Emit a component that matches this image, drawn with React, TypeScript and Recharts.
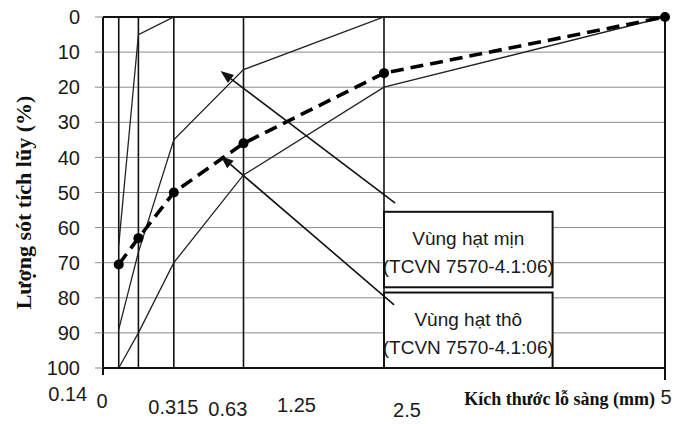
import { CartesianGrid, Line, LineChart, ReferenceArea, ReferenceLine, XAxis, YAxis } from 'recharts';

// sieve sizes (mm) and cumulative retained (%)
const sieveSizes = [0.14, 0.315, 0.63, 1.25, 2.5, 5];
const coarseLimit = [100, 90, 70, 45, 20, 0];
const sharedLimit = [89, 67, 35, 15, 0, 0];
const fineLimit = [65, 5, 0, 0, 0, 0];
const sampleCurve = [70.5, 63, 50, 36, 16, 0];

const xTicks = [0, 0.14, 0.315, 0.63, 1.25, 2.5, 5];
const xTickLabels = ['0', '0.14', '0.315', '0.63', '1.25', '2.5', '5'];
const yTicks = [0, 10, 20, 30, 40, 50, 60, 70, 80, 90, 100];

const yTitle = 'Lượng sót tích lũy (%)';
const xTitle = 'Kích thước lỗ sàng (mm)';
const fineZoneText = ['Vùng hạt mịn', '(TCVN 7570-4.1:06)'];
const coarseZoneText = ['Vùng hạt thô', '(TCVN 7570-4.1:06)'];

// label offsets, the scanned original has its x labels shifted
const tickOffsets: Record<string, [number, number]> = {
  '0': [-1, 40],
  '0.14': [-51, 33],
  '0.315': [35, 46],
  '0.63': [54, 48],
  '1.25': [53, 44],
  '2.5': [23, 49],
  '5': [1, 36],
};

const SANS = '"Liberation Sans", Arial, sans-serif';
const SERIF = '"Liberation Serif", "Times New Roman", serif';

const data = sieveSizes.map((size, i) => ({
  size,
  coarse: coarseLimit[i],
  shared: sharedLimit[i],
  fine: fineLimit[i],
  sample: sampleCurve[i],
}));

const XTick = ({ x, y, payload }: any) => {
  const idx = xTicks.indexOf(payload.value);
  const label = xTickLabels[idx] ?? String(payload.value);
  const [dx, dy] = tickOffsets[label] ?? [0, 30];
  const ext = payload.value === 5 ? 12 : payload.value === 0 ? 7 : 0;
  return (
    <g>
      {ext > 0 && <line x1={x} x2={x} y1={y} y2={y + ext} stroke="#111" strokeWidth={2} />}
      <text x={x + dx} y={y + dy} textAnchor="middle" fontFamily={SANS} fontSize={20} fill="#1a1a1a">
        {label}
      </text>
    </g>
  );
};

const zoneBox = (lines: string[]) => (props: any) => {
  const { x, y, width, height } = props;
  const cx = x + width / 2;
  return (
    <g>
      <rect x={x} y={y} width={width} height={height} fill="#fff" stroke="#111" strokeWidth={2} />
      <text x={cx} y={y + 33} textAnchor="middle" fontFamily={SANS} fontSize={19} fill="#1a1a1a">
        {lines[0]}
      </text>
      <text x={cx} y={y + 61} textAnchor="middle" fontFamily={SANS} fontSize={19} fill="#1a1a1a">
        {lines[1]}
      </text>
    </g>
  );
};

const Arrow = (props: any) => {
  const { x1, y1, x2, y2 } = props;
  const ang = Math.atan2(y2 - y1, x2 - x1);
  const len = 13;
  const half = 5;
  const bx = x2 - len * Math.cos(ang);
  const by = y2 - len * Math.sin(ang);
  const px = -Math.sin(ang) * half;
  const py = Math.cos(ang) * half;
  return (
    <g>
      <line x1={x1} y1={y1} x2={bx} y2={by} stroke="#111" strokeWidth={1.6} />
      <polygon points={`${x2},${y2} ${bx + px},${by + py} ${bx - px},${by - py}`} fill="#111" />
    </g>
  );
};

export default function App() {
  return (
    <div style={{ position: 'absolute', left: 0, top: 0, background: '#fff' }}>
      <LineChart width={675} height={424} data={data} margin={{ top: 17, right: 10, left: 0, bottom: 0 }}>
        <CartesianGrid vertical={false} stroke="#8a8a8a" strokeWidth={1} />
        <XAxis
          dataKey="size"
          type="number"
          domain={[0, 5]}
          ticks={xTicks}
          height={56}
          tickSize={0}
          tickMargin={0}
          tickLine={false}
          axisLine={{ stroke: '#111', strokeWidth: 2 }}
          tick={<XTick />}
          interval={0}
          label={(p: any) => {
            const vb = p.viewBox;
            return (
              <text x={vb.x + vb.width - 10} y={vb.y + 37} textAnchor="end" fontFamily={SERIF} fontWeight="bold" fontSize={18} fill="#111">
                {xTitle}
              </text>
            );
          }}
        />
        <YAxis
          type="number"
          domain={[0, 100]}
          reversed
          ticks={yTicks}
          interval={0}
          width={103}
          tickSize={8}
          tickMargin={15}
          tickLine={{ stroke: '#8a8a8a' }}
          axisLine={{ stroke: '#111', strokeWidth: 2 }}
          tick={{ fontFamily: SANS, fontSize: 20, fill: '#1a1a1a' }}
          label={(p: any) => {
            const vb = p.viewBox;
            const cy = vb.y + vb.height / 2 + 10;
            return (
              <text
                x={23}
                y={cy}
                transform={`rotate(-90, 23, ${cy})`}
                textAnchor="middle"
                dominantBaseline="central"
                fontFamily={SERIF}
                fontWeight="bold"
                fontSize={22}
                fill="#111"
              >
                {yTitle}
              </text>
            );
          }}
        />
        {sieveSizes.map((s) => (
          <ReferenceLine key={s} x={s} stroke="#111" strokeWidth={s === 5 ? 2 : 1.6} />
        ))}
        <ReferenceLine y={0} stroke="#111" strokeWidth={2} />
        <ReferenceArea x1={2.5} x2={4} y1={55.5} y2={77} shape={zoneBox(fineZoneText)} />
        <ReferenceArea x1={2.5} x2={4} y1={78.5} y2={100} shape={zoneBox(coarseZoneText)} />
        <Line dataKey="coarse" stroke="#222" strokeWidth={1.3} dot={false} isAnimationActive={false} />
        <Line dataKey="shared" stroke="#222" strokeWidth={1.3} dot={false} isAnimationActive={false} />
        <Line dataKey="fine" stroke="#222" strokeWidth={1.3} dot={false} isAnimationActive={false} />
        <Line
          dataKey="sample"
          stroke="#000"
          strokeWidth={3.6}
          strokeDasharray="13 7"
          dot={{ r: 5, fill: '#000', stroke: '#000', strokeWidth: 0 }}
          isAnimationActive={false}
        />
        <ReferenceLine segment={[{ x: 2.6, y: 53 }, { x: 1.046, y: 15.4 }]} shape={Arrow} />
        <ReferenceLine segment={[{ x: 2.59, y: 82 }, { x: 1.046, y: 39.6 }]} shape={Arrow} />
      </LineChart>
    </div>
  );
}
